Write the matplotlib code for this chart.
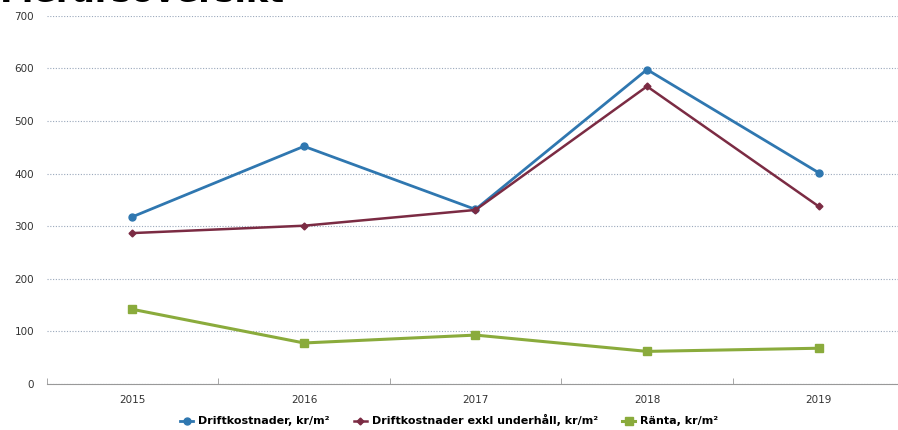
import numpy as np
import matplotlib.pyplot as plt

years = ['2015', '2016', '2017', '2018', '2019']
drift = [318, 452, 332, 598, 402]
drift_exkl = [287, 301, 331, 566, 338]
ranta = [142, 78, 93, 62, 68]

fig = plt.figure(figsize=(8.98, 4.30), dpi=100)
ax = fig.add_axes([0.052, 0.107, 0.955, 0.856])

x = np.arange(len(years))
ax.plot(x, drift, color='#2f77b0', lw=2, marker='o', ms=5, label='Driftkostnader, kr/m²')
ax.plot(x, drift_exkl, color='#7b2b43', lw=1.8, marker='D', ms=3.5, label='Driftkostnader exkl underhåll, kr/m²')
ax.plot(x, ranta, color='#8aab3c', lw=2.2, marker='s', ms=5.5, label='Ränta, kr/m²')

ax.set_xlim(-0.5, len(years) - 0.5)
ax.set_ylim(0, 700)
ax.set_yticks(range(0, 701, 100))
ax.set_xticks(x)
ax.set_xticklabels(years)
ax.set_xticks(np.arange(-0.5, len(years), 1), minor=True)
ax.tick_params(axis='x', which='major', length=0, pad=8, labelsize=7.5, colors='#333333')
ax.tick_params(axis='x', which='minor', length=4, color='#999999', direction='in')
ax.tick_params(axis='y', length=0, pad=9, labelsize=7.5, colors='#333333')
ax.grid(axis='y', color='#9aa8bb', ls=(0, (1, 1.5)), lw=0.8)
for s in ['top', 'right', 'left']:
    ax.spines[s].set_visible(False)
ax.spines['bottom'].set_color('#999999')
ax.spines['bottom'].set_linestyle((0, (1, 1)))
ax.spines['bottom'].set_linewidth(0.8)

# title of the slide, mostly cropped off in the scan
fig.text(0.0, 0.995, 'Flerårsöversikt', fontsize=24, fontweight='bold', va='baseline', ha='left')

fig.legend(loc='lower center', ncol=3, frameon=False, fontsize=8, bbox_to_anchor=(0.5, -0.015),
           handlelength=1.2, columnspacing=2.2, handletextpad=0.4, prop={'weight': 'bold', 'size': 8})

fig.savefig('out.png', dpi=100)
